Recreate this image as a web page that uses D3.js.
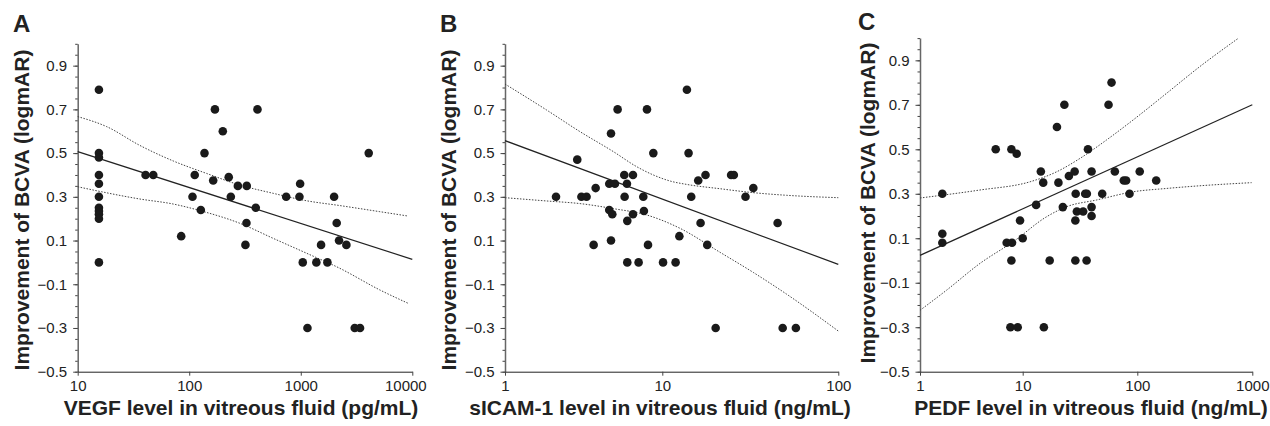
<!DOCTYPE html>
<html>
<head>
<meta charset="utf-8">
<script src="https://cdn.jsdelivr.net/npm/d3@7"></script>
<style>
  body { margin: 0; background: #fff; }
  text { font-family: "Liberation Sans", Arial, sans-serif; fill: #222; }
</style>
</head>
<body>
<svg id="chart" width="1270" height="426"></svg>
<script>
// tick labels
const yTicks = [-0.5, -0.3, -0.1, 0.1, 0.3, 0.5, 0.7, 0.9];
const xTicksA = [10, 100, 1000, 10000];
const xTicksB = [1, 10, 100];
const xTicksC = [1, 10, 100, 1000];

// A: VEGF (pg/mL) vs improvement of BCVA
const vegfX = [15.5, 15.5, 15.5, 15.5, 15.5, 15.5, 15.5, 15.5, 15.5, 15.5, 15.5,
  40.6, 47.6, 84.7, 107, 112, 127, 137, 164, 170, 200, 226, 236, 273, 328, 326, 319, 395, 409,
  740, 973, 987, 1042, 1148, 1380, 1521, 1733, 1990, 2100, 2204, 2564, 3046, 3400, 4067];
const vegfY = [0.79, 0.50, 0.48, 0.40, 0.36, 0.30, 0.25, 0.235, 0.22, 0.20, 0.0,
  0.40, 0.40, 0.12, 0.30, 0.40, 0.24, 0.50, 0.375, 0.70, 0.60, 0.39, 0.30, 0.35, 0.35, 0.18, 0.08, 0.25, 0.70,
  0.30, 0.30, 0.36, 0.0, -0.30, 0.0, 0.08, 0.0, 0.30, 0.18, 0.10, 0.08, -0.30, -0.30, 0.50];
const vegfFitX = [10, 10000];
const vegfFitY = [0.507, 0.014];
const vegfUpX = [10, 18.2, 36.1, 71.9, 143, 284, 566, 1127, 2239, 5117, 9162];
const vegfUpY = [0.667, 0.621, 0.535, 0.464, 0.407, 0.354, 0.316, 0.282, 0.260, 0.232, 0.212];
const vegfLoX = [10, 36.1, 71.9, 129, 284, 566, 1127, 2239, 5117, 9162];
const vegfLoY = [0.346, 0.290, 0.267, 0.235, 0.179, 0.110, 0.042, -0.027, -0.126, -0.187];

// B: sICAM-1 (ng/mL)
const icamX = [2.11, 2.88, 3.06, 3.30, 3.66, 3.77, 4.60, 4.60, 4.72, 4.72,
  4.81, 5.00, 5.20, 5.73, 5.76, 5.96, 5.99, 5.99, 6.51, 6.51,
  7.07, 7.57, 7.64, 7.99, 8.11, 8.77, 10.1, 11.9, 12.5, 13.8,
  14.1, 14.6, 16.0, 16.5, 17.6, 18.0, 20.1, 24.6, 25.5, 29.7,
  32.9, 45.2, 48.3, 57.4];
const icamY = [0.30, 0.47, 0.30, 0.30, 0.08, 0.34, 0.24, 0.36, 0.59, 0.10,
  0.22, 0.36, 0.70, 0.40, 0.30, 0.36, 0.19, 0.0, 0.40, 0.22,
  0.0, 0.30, 0.235, 0.70, 0.08, 0.50, 0.0, 0.0, 0.12, 0.79,
  0.50, 0.30, 0.375, 0.18, 0.40, 0.08, -0.30, 0.40, 0.40, 0.30,
  0.34, 0.18, -0.30, -0.30];
const icamFitX = [1, 100];
const icamFitY = [0.557, -0.009];
const icamUpX = [1, 1.84, 3.0, 4.88, 6.87, 8.77, 11.1, 13.7, 21.3, 32.9, 50.8, 100];
const icamUpY = [0.816, 0.697, 0.598, 0.507, 0.438, 0.400, 0.372, 0.357, 0.337, 0.319, 0.307, 0.296];
const icamLoX = [1, 1.84, 3.0, 4.88, 7.95, 12.6, 21.3, 32.9, 50.8, 100];
const icamLoY = [0.296, 0.281, 0.269, 0.246, 0.217, 0.156, 0.046, -0.046, -0.145, -0.314];

// C: PEDF (ng/mL)
const pedfX = [1.65, 1.65, 1.65, 5.46, 6.98, 7.76, 7.87, 7.76, 7.59, 8.74,
  8.94, 9.42, 10.0, 13.1, 14.4, 15.1, 15.3, 17.2, 19.9, 20.5,
  22.4, 23.1, 25.3, 28.4, 28.8, 29.0, 28.8, 29.7, 33.7, 35.1,
  36.3, 36.1, 37.1, 39.9, 39.9, 39.9, 49.4, 56.1, 59.6, 63.7,
  76.2, 79.9, 85.5, 105, 146];
const pedfY = [0.30, 0.12, 0.08, 0.50, 0.08, 0.50, 0.08, 0.0, -0.30, 0.48,
  -0.30, 0.18, 0.10, 0.25, 0.40, 0.35, -0.30, 0.0, 0.60, 0.35,
  0.24, 0.70, 0.38, 0.40, 0.18, 0.30, 0.0, 0.22, 0.22, 0.30,
  0.30, 0.0, 0.50, 0.40, 0.24, 0.20, 0.30, 0.70, 0.80, 0.40,
  0.36, 0.36, 0.30, 0.40, 0.36];
const pedfFitX = [1, 1000];
const pedfFitY = [0.023, 0.70];
const pedfUpX = [1, 3.84, 11.6, 19.8, 31.6, 53.9, 92, 180, 350, 760];
const pedfUpY = [0.281, 0.317, 0.354, 0.399, 0.459, 0.542, 0.632, 0.752, 0.872, 1.0];
const pedfLoX = [1, 1.82, 3.84, 8.11, 16.2, 24.2, 44.1, 92, 180, 350, 986];
const pedfLoY = [-0.224, -0.133, -0.013, 0.085, 0.197, 0.242, 0.272, 0.309, 0.324, 0.336, 0.350];

const svg = d3.select("#chart");
const zip = (xs, ys) => xs.map((x, i) => ({ x: x, y: ys[i] }));

function drawPanel(p) {
    const g = svg.append("g");
    const x = p.x, y = p.y;

    // panel letter
    g.append("text")
        .attr("x", p.letterX).attr("y", p.letterY)
        .style("font-size", "24px").style("font-weight", "bold")
        .text(p.letter);

    // y axis: minor ticks then labelled ticks
    const minor = d3.range(-0.5, 1.0001, 0.05);
    g.append("g")
        .attr("transform", `translate(${x.range()[0]},0)`)
        .call(d3.axisLeft(y).tickValues(minor).tickSize(2.5).tickFormat("").tickSizeOuter(0))
        .call(s => s.select(".domain").attr("stroke", "#666").attr("stroke-width", 1.5))
        .call(s => s.selectAll(".tick line").attr("stroke", "#444"));
    g.append("g")
        .attr("transform", `translate(${x.range()[0]},0)`)
        .call(d3.axisLeft(y).tickValues(yTicks).tickSize(4.5).tickPadding(6)
            .tickFormat(d3.format(".1f")).tickSizeOuter(0))
        .call(s => s.select(".domain").remove())
        .call(s => s.selectAll(".tick line").attr("stroke", "#444"))
        .call(s => s.selectAll(".tick text").style("font-size", "15px").attr("fill", "#333")
            .style("font-family", "'Liberation Sans', Arial, sans-serif"));

    // x axis
    const xr = x.range();
    g.append("g")
        .attr("transform", `translate(0,${y(-0.5)})`)
        .call(d3.axisBottom(x).tickValues(p.xTicks).tickSize(4).tickPadding(5)
            .tickFormat(d3.format("d")).tickSizeOuter(0))
        .call(s => s.select(".domain").attr("stroke", "#222"))
        .call(s => s.selectAll(".tick line").attr("stroke", "#444"))
        .call(s => s.selectAll(".tick text").style("font-size", "15px").attr("fill", "#333")
            .style("font-family", "'Liberation Sans', Arial, sans-serif")
            .attr("dx", d => d === 10000 ? -7 : 0));

    // titles
    g.append("text")
        .attr("x", p.xTitleX).attr("y", 415)
        .attr("text-anchor", "middle")
        .style("font-size", "21px").style("font-weight", "bold")
        .text(p.xTitle);
    g.append("text")
        .attr("transform", `translate(${p.yTitleX},${p.yTitleY}) rotate(-90)`)
        .attr("text-anchor", "middle")
        .style("font-size", "21px").style("font-weight", "bold")
        .text("Improvement of BCVA (logmAR)");

    // confidence bands
    const band = d3.line().x(d => x(d.x)).y(d => y(d.y)).curve(d3.curveMonotoneX);
    [zip(p.upX, p.upY), zip(p.loX, p.loY)].forEach(pts => {
        g.append("path")
            .datum(pts)
            .attr("fill", "none")
            .attr("stroke", "#444")
            .attr("stroke-width", 1)
            .attr("stroke-dasharray", "1.5,1.5")
            .attr("d", band);
    });

    // regression line
    g.append("path")
        .datum(zip(p.fitX, p.fitY))
        .attr("fill", "none")
        .attr("stroke", "#222")
        .attr("stroke-width", 1.2)
        .attr("d", d3.line().x(d => x(d.x)).y(d => y(d.y)));

    // points
    g.selectAll(".dot")
        .data(zip(p.dotsX, p.dotsY))
        .enter()
        .append("circle")
        .attr("cx", d => x(d.x))
        .attr("cy", d => y(d.y))
        .attr("r", 4.3)
        .attr("fill", "#1a1a1a");
}

const yAB = d3.scaleLinear().domain([-0.5, 1.0]).range([371.7, 43.8]);
const yC = d3.scaleLinear().domain([-0.5, 1.0]).range([371.7, 38.1]);

drawPanel({
    letter: "A", letterX: 13, letterY: 32,
    x: d3.scaleLog().domain([10, 10000]).range([77.7, 412.3]), y: yAB,
    xTicks: xTicksA, xTitle: "VEGF level in vitreous fluid (pg/mL)", xTitleX: 241,
    yTitleX: 29, yTitleY: 210,
    dotsX: vegfX, dotsY: vegfY, fitX: vegfFitX, fitY: vegfFitY,
    upX: vegfUpX, upY: vegfUpY, loX: vegfLoX, loY: vegfLoY
});

drawPanel({
    letter: "B", letterX: 440, letterY: 32,
    x: d3.scaleLog().domain([1, 10, 100]).range([505, 662.3, 838.3]), y: yAB,
    xTicks: xTicksB, xTitle: "sICAM-1 level in vitreous fluid (ng/mL)", xTitleX: 660,
    yTitleX: 456, yTitleY: 210,
    dotsX: icamX, dotsY: icamY, fitX: icamFitX, fitY: icamFitY,
    upX: icamUpX, upY: icamUpY, loX: icamLoX, loY: icamLoY
});

drawPanel({
    letter: "C", letterX: 858, letterY: 30,
    x: d3.scaleLog().domain([1, 10, 100, 1000]).range([920, 1022.7, 1137.3, 1252.3]), y: yC,
    xTicks: xTicksC, xTitle: "PEDF level in vitreous fluid (ng/mL)", xTitleX: 1091,
    yTitleX: 875, yTitleY: 203,
    dotsX: pedfX, dotsY: pedfY, fitX: pedfFitX, fitY: pedfFitY,
    upX: pedfUpX, upY: pedfUpY, loX: pedfLoX, loY: pedfLoY
});
</script>
</body>
</html>
